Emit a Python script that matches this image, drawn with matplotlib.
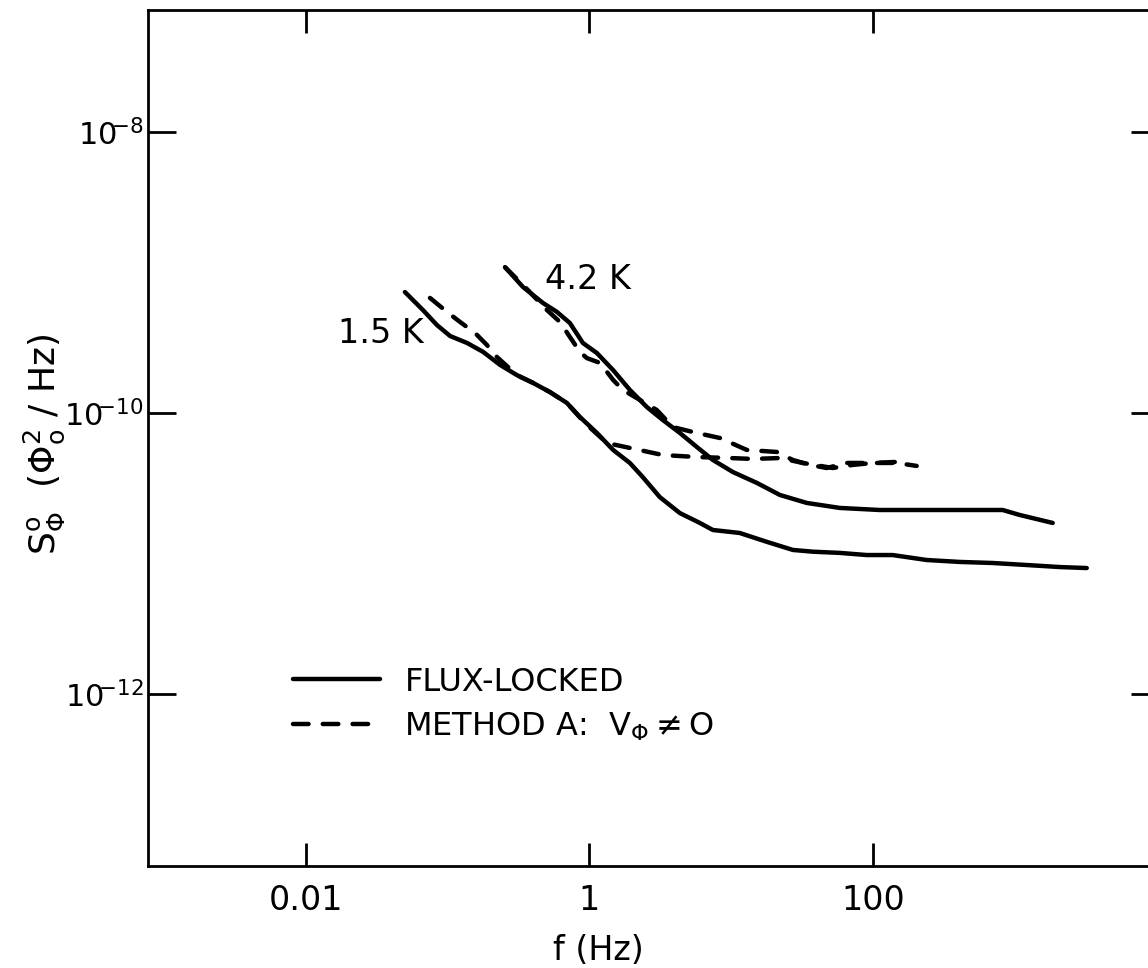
import matplotlib
matplotlib.use('Agg')
import matplotlib.pyplot as plt
import numpy as np

plt.rcParams['font.family'] = ['DejaVu Sans']
plt.rcParams['mathtext.default'] = 'regular'

# 1.5 K, flux-locked
f_15_solid = [0.0499, 0.0668, 0.0839, 0.104, 0.137, 0.178, 0.234, 0.308, 0.399, 0.526,
              0.693, 0.857, 1.13, 1.47, 1.93, 2.38, 3.14, 4.35, 6.02, 7.44,
              11.5, 17.9, 27.3, 37.8, 58.5, 90.7, 138, 240, 411, 703,
              1220, 2085, 3236]
S_15_solid = [7.26e-10, 5.41e-10, 4.23e-10, 3.53e-10, 3.15e-10, 2.72e-10, 2.20e-10, 1.86e-10, 1.64e-10, 1.41e-10,
              1.18e-10, 9.37e-11, 7.21e-11, 5.46e-11, 4.41e-11, 3.50e-11, 2.52e-11, 1.94e-11, 1.65e-11, 1.47e-11,
              1.40e-11, 1.21e-11, 1.06e-11, 1.03e-11, 1.01e-11, 9.75e-12, 9.75e-12, 8.99e-12, 8.71e-12, 8.56e-12,
              8.28e-12, 8.01e-12, 7.88e-12]

# 4.2 K, flux-locked
f_42_solid = [0.254, 0.340, 0.470, 0.590, 0.728, 0.900, 1.13, 1.47, 1.93, 2.55,
              3.30, 4.35, 5.73, 7.44, 10.3, 15.2, 22.1, 34.2, 58.5, 112,
              240, 411, 826, 1089, 1862]
S_42_solid = [1.09e-9, 7.88e-10, 6.07e-10, 5.24e-10, 4.37e-10, 3.15e-10, 2.67e-10, 2.02e-10, 1.46e-10, 1.10e-10,
              8.91e-11, 7.21e-11, 5.73e-11, 4.63e-11, 3.80e-11, 3.18e-11, 2.61e-11, 2.29e-11, 2.11e-11, 2.04e-11,
              2.04e-11, 2.04e-11, 2.04e-11, 1.88e-11, 1.65e-11]

# 1.5 K, method A
f_15_dash = [0.0750, 0.0989, 0.122, 0.156, 0.189, 0.222, 0.308, 0.399, 0.526, 0.693,
             0.929, 1.33, 1.93, 3.30, 5.73, 9.80, 14.2, 22.1, 32.1, 52.2,
             72.3, 100, 143]
S_15_dash = [6.59e-10, 5.24e-10, 4.45e-10, 3.71e-10, 3.05e-10, 2.51e-10, 1.86e-10, 1.64e-10, 1.41e-10, 1.18e-10,
             8.49e-11, 6.11e-11, 5.64e-11, 5.02e-11, 4.86e-11, 4.78e-11, 4.71e-11, 4.78e-11, 4.41e-11, 4.06e-11,
             4.27e-11, 4.41e-11, 4.48e-11]

# 4.2 K, method A
f_42_dash = [0.254, 0.340, 0.501, 0.619, 0.728, 0.857, 0.959, 1.19, 1.47, 1.72,
             2.27, 2.99, 3.88, 5.73, 8.33, 12.9, 21.0, 27.3, 36.0, 47.3,
             65.6, 100, 148, 204]
S_42_dash = [1.09e-9, 8.15e-10, 5.41e-10, 4.45e-10, 3.48e-10, 2.72e-10, 2.46e-10, 2.27e-10, 1.72e-10, 1.46e-10,
             1.24e-10, 1.05e-10, 7.94e-11, 7.21e-11, 6.64e-11, 5.46e-11, 5.28e-11, 4.63e-11, 4.27e-11, 4.06e-11,
             4.41e-11, 4.41e-11, 4.41e-11, 4.20e-11]

x_ticks = [0.01, 1, 100]
x_ticklabels = ['0.01', '1', '100']
y_ticks = [1e-8, 1e-10, 1e-12]
# superscript pulled in a little toward the "10", like the hand lettering
y_ticklabels = [r'$10^{\hspace{-0.25}{-8}}$', r'$10^{\hspace{-0.25}{-10}}$', r'$10^{\hspace{-0.25}{-12}}$']

fig = plt.figure(figsize=(11.48, 9.68), dpi=100)
ax = fig.add_axes([0.12892, 0.10537, 0.88066, 0.88430])

lw = 3.2
solid_kw = dict(color='black', lw=lw, solid_capstyle='round', solid_joinstyle='round')
dash_kw = dict(color='black', lw=lw, linestyle=(0, (3.5, 3.2)), dash_capstyle='round')

l1, = ax.plot(f_15_solid, S_15_solid, **solid_kw)
ax.plot(f_42_solid, S_42_solid, **solid_kw)
l2, = ax.plot(f_15_dash, S_15_dash, **dash_kw)
ax.plot(f_42_dash, S_42_dash, **dash_kw)

ax.set_xscale('log')
ax.set_yscale('log')
ax.set_xlim(10**-3.115, 10**4.02)
ax.set_ylim(10**-13.224, 10**-7.132)

ax.set_xticks(x_ticks)
ax.set_xticklabels(x_ticklabels)
ax.set_yticks(y_ticks)
ax.set_yticklabels(y_ticklabels)
ax.minorticks_off()

ax.tick_params(axis='both', direction='in', width=2, labelsize=24,
               top=True, right=True)
ax.tick_params(axis='x', length=16.5, pad=13)
ax.tick_params(axis='y', length=20, pad=3, labelsize=22)
for s in ax.spines.values():
    s.set_linewidth(2)

ax.text(0.0168, 3.65e-10, '1.5 K', fontsize=24, ha='left', va='center')
ax.text(0.485, 8.85e-10, '4.2 K', fontsize=24, ha='left', va='center')

ax.set_xlabel('f (Hz)', fontsize=24)
ax.xaxis.set_label_coords(0.445, -0.08)
ax.set_ylabel(r'$S^{o}_{\Phi}$  ($\Phi_{o}^{2}$ / Hz)', fontsize=26)
ax.yaxis.set_label_coords(-0.08, 0.493)

ax.legend([l1, l2], ['FLUX-LOCKED', r'METHOD A:  $V_{\Phi} \neq O$'],
          loc='upper left', bbox_to_anchor=(0.143, 0.233), frameon=False,
          fontsize=23, handlelength=2.75, handletextpad=0.75, labelspacing=0.4,
          borderpad=0, borderaxespad=0)

fig.savefig('out.png', dpi=100, facecolor='white')
